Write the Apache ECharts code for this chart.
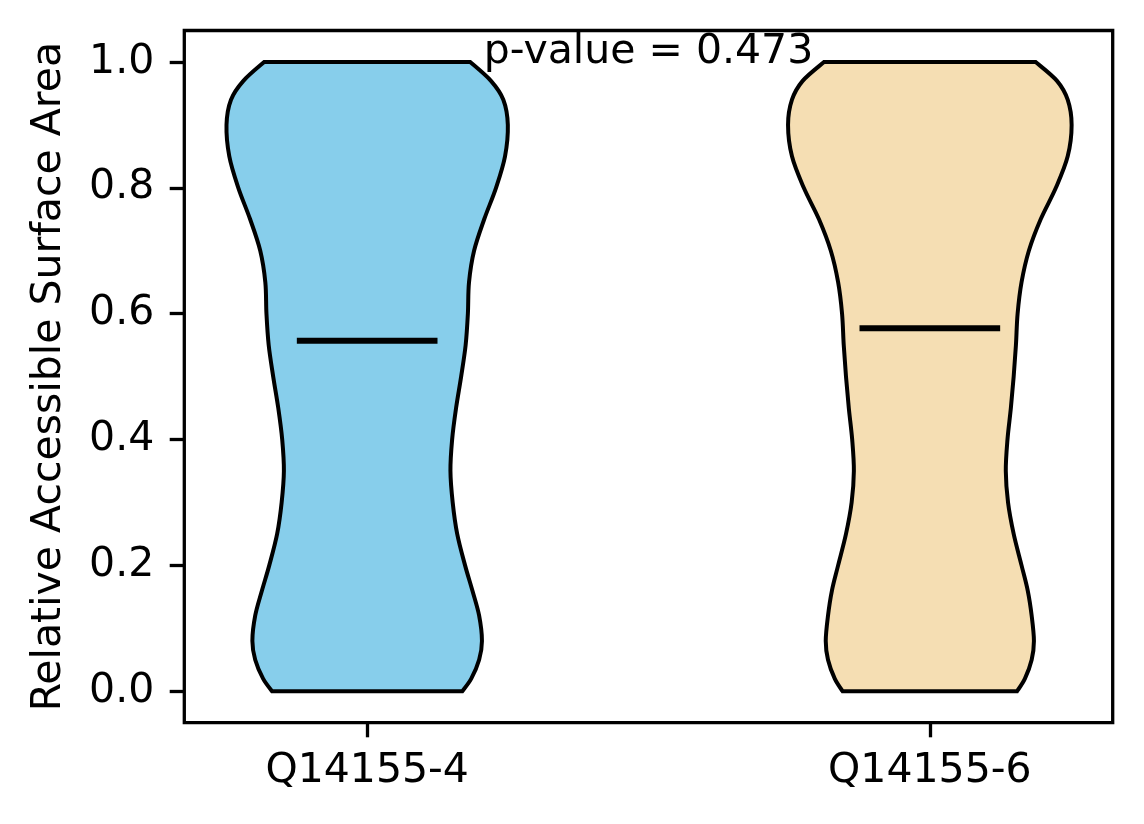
<!DOCTYPE html>
<html>
<head>
<meta charset="utf-8">
<script src="https://cdn.jsdelivr.net/npm/echarts@6/dist/echarts.min.js"></script>
<style>
	html, body { margin: 0; padding: 0; background: #fff; }
	#chart { width: 1144px; height: 824px; }
</style>
</head>
<body>
<div id="chart"></div>
<script>
// categories and their x positions
const names = ["Q14155-4", "Q14155-6"];
const positions = [1, 2];
const medians = [0.557, 0.577];
const fills = ["#87CEEB", "#F5DEB3"];

// violin outline: half-width (x units) at each y level
const levels = [0, 0.02, 0.05, 0.08, 0.12, 0.16, 0.2, 0.25, 0.3, 0.35, 0.4, 0.45, 0.5, 0.55, 0.6, 0.65, 0.7, 0.75, 0.8, 0.85, 0.9, 0.94, 0.97, 1.0];
const halfA = [0.169, 0.185, 0.199, 0.204, 0.199, 0.187, 0.174, 0.160, 0.152, 0.148, 0.151, 0.158, 0.167, 0.175, 0.179, 0.181, 0.190, 0.208, 0.229, 0.245, 0.250, 0.242, 0.220, 0.183];
const halfB = [0.155, 0.169, 0.181, 0.185, 0.181, 0.174, 0.163, 0.149, 0.139, 0.135, 0.138, 0.144, 0.149, 0.153, 0.156, 0.163, 0.176, 0.197, 0.224, 0.245, 0.252, 0.245, 0.226, 0.188];
const halves = [halfA, halfB];

const yTicks = [0, 0.2, 0.4, 0.6, 0.8, 1.0];
const pText = "p-value = 0.473";
const pPos = [1.5, 1.0];

const FONT = "DejaVu Sans";
const FS = 41;
const chart = echarts.init(document.getElementById("chart"), null, { renderer: "canvas" });

// catmull-rom through screen points -> svg path commands
const curveThrough = (pts) => {
	let d = "";
	for (let i = 0; i < pts.length - 1; i++) {
		const p0 = pts[i - 1] || pts[i];
		const p1 = pts[i];
		const p2 = pts[i + 1];
		const p3 = pts[i + 2] || p2;
		const c1 = [p1[0] + (p2[0] - p0[0]) / 6, p1[1] + (p2[1] - p0[1]) / 6];
		const c2 = [p2[0] - (p3[0] - p1[0]) / 6, p2[1] - (p3[1] - p1[1]) / 6];
		d += ` C${c1[0]},${c1[1]} ${c2[0]},${c2[1]} ${p2[0]},${p2[1]}`;
	}
	return d;
};

const violinItem = (params, api) => {
	const i = params.dataIndex;
	const x = api.value(0);
	const med = api.value(1);
	const hw = halves[i];
	const left = [];
	const right = [];
	for (let k = levels.length - 1; k >= 0; k--)
		left.push(api.coord([x - hw[k], levels[k]]));
	for (let k = 0; k < levels.length; k++)
		right.push(api.coord([x + hw[k], levels[k]]));

	let d = `M${left[0][0]},${left[0][1]}` + curveThrough(left);
	d += ` L${right[0][0]},${right[0][1]}` + curveThrough(right) + " Z";

	const m1 = api.coord([x - 0.125, med]);
	const m2 = api.coord([x + 0.125, med]);

	return {
		type     : "group",
		children : [
			{
				type  : "path",
				shape : { pathData: d },
				style : { fill: fills[i], stroke: "#000", lineWidth: 4, lineJoin: "miter" },
			},
			{
				type  : "line",
				shape : { x1: m1[0], y1: m1[1], x2: m2[0], y2: m2[1] },
				style : { stroke: "#000", lineWidth: 6 },
			},
		],
	};
};

const textItem = (params, api) => {
	const p = api.coord([api.value(0), api.value(1)]);
	return {
		type  : "text",
		x     : p[0],
		y     : p[1] - 9.5,
		style : {
			text          : pText,
			fill          : "#000",
			font          : `${FS}px "${FONT}"`,
			align         : "center",
			verticalAlign : "middle",
		},
	};
};

chart.setOption({
	animation : false,
	grid      : {
		left        : 184.3,
		top         : 30.5,
		width       : 928.4,
		height      : 692.2,
		show        : true,
		borderColor : "#000",
		borderWidth : 3.3,
	},
	xAxis: {
		type      : "value",
		min       : 0.675,
		max       : 2.325,
		splitLine : { show: false },
		axisLine  : { show: false, onZero: false },
		axisTick  : {
			show         : true,
			customValues : positions,
			length       : 14.6,
			lineStyle    : { color: "#000", width: 3.3 },
		},
		axisLabel: {
			customValues : positions,
			formatter    : v => names[Math.round(v) - 1],
			color        : "#000",
			fontFamily   : FONT,
			fontSize     : FS,
			margin       : 28,
		},
	},
	yAxis: {
		type          : "value",
		min           : -0.05,
		max           : 1.05,
		name          : "Relative Accessible Surface Area",
		nameLocation  : "middle",
		nameGap       : 135,
		nameTextStyle : {
			color         : "#000",
			fontFamily    : FONT,
			fontSize      : FS,
			verticalAlign : "middle",
		},
		splitLine : { show: false },
		axisLine  : { show: false, onZero: false },
		axisTick  : {
			show         : true,
			customValues : yTicks,
			length       : 14.6,
			lineStyle    : { color: "#000", width: 3.3 },
		},
		axisLabel: {
			customValues : yTicks,
			formatter    : v => v.toFixed(1),
			color        : "#000",
			fontFamily   : FONT,
			fontSize     : FS,
			margin       : 30,
		},
	},
	series: [
		{
			type       : "custom",
			renderItem : violinItem,
			data       : positions.map((p, i) => [p, medians[i]]),
			clip       : false,
		},
		{
			type       : "custom",
			renderItem : textItem,
			data       : [pPos],
			clip       : false,
			z          : 5,
		},
	],
});
</script>
</body>
</html>
